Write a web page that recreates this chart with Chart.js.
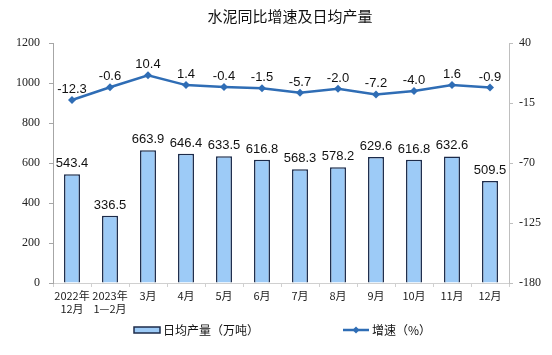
<!DOCTYPE html>
<html><head><meta charset="utf-8">
<script src="https://cdn.jsdelivr.net/npm/chart.js@4"></script>
<style>html,body{margin:0;padding:0;background:#fff}#wrap{width:552px;height:355px}</style>
</head><body><div id="wrap"><canvas id="c" width="552" height="355"></canvas></div>
<script>
const categories = [["2022年","12月"],["2023年","1—2月"],"3月","4月","5月","6月","7月","8月","9月","10月","11月","12月"];
const output = [543.4,336.5,663.9,646.4,633.5,616.8,568.3,578.2,629.6,616.8,632.6,509.5];
const growth = [-12.3,-0.6,10.4,1.4,-0.4,-1.5,-5.7,-2.0,-7.2,-4.0,1.6,-0.9];
const leftTicks = [0,200,400,600,800,1000,1200];
const rightTicks = [-180,-125,-70,-15,40];
const titleText = "水泥同比增速及日均产量";
const barLabel = "日均产量（万吨）";
const lineLabel = "增速（%）";

const BAR_FILL = "#9DCBF7", BAR_BORDER = "#1C2B4A", LINE_COLOR = "#2F6DB5";

const extras = {
  id: "extras",
  afterDatasetsDraw(chart) {
    const ctx = chart.ctx;
    ctx.save();
    ctx.fillStyle = "#111";
    ctx.font = "13px 'Liberation Sans', Arial, sans-serif";
    ctx.textAlign = "center";
    ctx.textBaseline = "alphabetic";
    chart.getDatasetMeta(0).data.forEach((el, i) => {
      ctx.fillText(output[i].toFixed(1), el.x, el.y - 7);
    });
    chart.getDatasetMeta(1).data.forEach((el, i) => {
      ctx.fillText(growth[i].toFixed(1), el.x, el.y - 7);
    });
    ctx.restore();
  },
  afterDraw(chart) {
    const ctx = chart.ctx;
    ctx.save();
    ctx.fillStyle = "#111";
    ctx.font = "15px 'Noto Sans CJK SC', sans-serif";
    ctx.textAlign = "center";
    ctx.textBaseline = "middle";
    ctx.fillText(titleText, 290, 16);
    ctx.fillStyle = BAR_FILL;
    ctx.strokeStyle = BAR_BORDER;
    ctx.lineWidth = 1.5;
    ctx.fillRect(134, 327, 26, 6);
    ctx.strokeRect(134, 327, 26, 6);
    ctx.fillStyle = "#111";
    ctx.font = "12px 'Noto Sans CJK SC', sans-serif";
    ctx.textAlign = "left";
    ctx.fillText(barLabel, 163, 330);
    ctx.strokeStyle = LINE_COLOR;
    ctx.lineWidth = 2.5;
    ctx.beginPath(); ctx.moveTo(343, 330); ctx.lineTo(369, 330); ctx.stroke();
    ctx.fillStyle = LINE_COLOR;
    ctx.beginPath(); ctx.moveTo(356, 326.5); ctx.lineTo(359.5, 330); ctx.lineTo(356, 333.5); ctx.lineTo(352.5, 330); ctx.closePath(); ctx.fill();
    ctx.fillStyle = "#111";
    ctx.fillText(lineLabel, 372, 330);
    ctx.restore();
  }
};

new Chart(document.getElementById("c"), {
  data: {
    labels: categories,
    datasets: [
      { type: "bar", label: barLabel, data: output, yAxisID: "y",
        backgroundColor: BAR_FILL, borderColor: BAR_BORDER, borderWidth: 1.5,
        barPercentage: 0.42, categoryPercentage: 1.0, order: 2 },
      { type: "line", label: lineLabel, data: growth, yAxisID: "y1",
        borderColor: LINE_COLOR, backgroundColor: LINE_COLOR, borderWidth: 2.5,
        pointStyle: "rectRot", pointRadius: 4, pointBackgroundColor: LINE_COLOR,
        pointBorderWidth: 0, tension: 0, order: 1 }
    ]
  },
  options: {
    responsive: false, animation: false, devicePixelRatio: 1,
    layout: { padding: { top: 43, left: 0, right: 0, bottom: 0 } },
    plugins: { legend: { display: false }, title: { display: false }, tooltip: { enabled: false } },
    scales: {
      x: {
        offset: true,
        grid: { display: true, drawOnChartArea: false, offset: true, tickLength: 4, color: "#d0d0d0" },
        border: { color: "#d0d0d0" },
        ticks: { color: "#222", font: { family: "'Noto Sans CJK SC', sans-serif", size: 11 }, padding: 2, maxRotation: 0, autoSkip: false },
        afterFit(s) { s.height = 72; }
      },
      y: {
        position: "left", min: 0, max: 1200,
        afterBuildTicks(s) { s.ticks = leftTicks.map(v => ({ value: v })); },
        grid: { drawOnChartArea: false, tickLength: 4, color: "#a6a6a6" },
        border: { color: "#a6a6a6" },
        ticks: { color: "#222", font: { family: "'Liberation Serif', serif", size: 12 }, padding: 9, callback: v => String(v) },
        afterFit(s) { s.width = 53; }
      },
      y1: {
        position: "right", min: -180, max: 40,
        afterBuildTicks(s) { s.ticks = rightTicks.map(v => ({ value: v })); },
        grid: { drawOnChartArea: false, tickLength: 4, color: "#bfbfbf" },
        border: { color: "#bfbfbf" },
        ticks: { color: "#222", font: { family: "'Liberation Serif', serif", size: 12 }, padding: 6, callback: v => String(v) },
        afterFit(s) { s.width = 43; }
      }
    }
  },
  plugins: [extras]
});
</script></body></html>
